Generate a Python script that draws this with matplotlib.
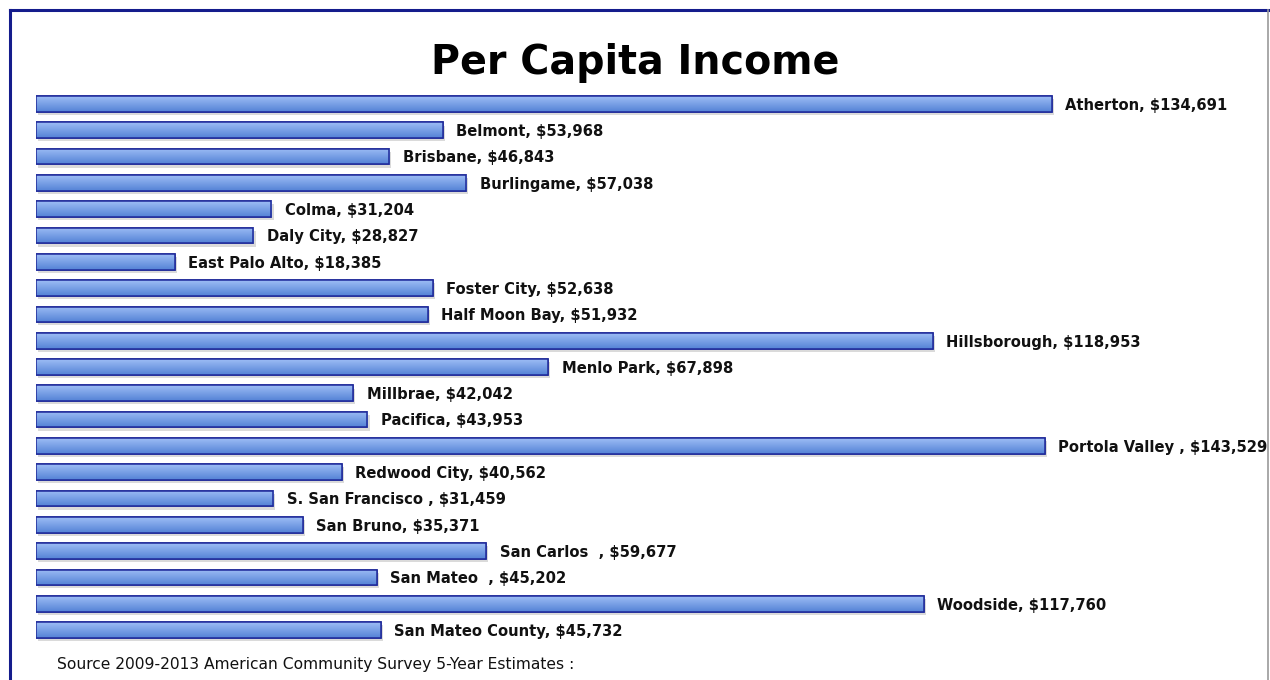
import numpy as np
import matplotlib
matplotlib.use("Agg")
import matplotlib.pyplot as plt
from matplotlib.lines import Line2D

# ---- data ----
places = ["Atherton", "Belmont", "Brisbane", "Burlingame", "Colma", "Daly City",
          "East Palo Alto", "Foster City", "Half Moon Bay", "Hillsborough",
          "Menlo Park", "Millbrae", "Pacifica", "Portola Valley ", "Redwood City",
          "S. San Francisco ", "San Bruno", "San Carlos  ", "San Mateo  ",
          "Woodside", "San Mateo County"]
income = [134691, 53968, 46843, 57038, 31204, 28827, 18385, 52638, 51932,
          118953, 67898, 42042, 43953, 143529, 40562, 31459, 35371, 59677,
          45202, 117760, 45732]
# bar lengths as drawn (Portola Valley bar is drawn shorter than its label says)
bar_len = [134691, 53968, 46843, 57038, 31204, 28827, 18385, 52638, 51932,
           118953, 67898, 42042, 43953, 133800, 40562, 31459, 35371, 59677,
           45202, 117760, 45732]

NAVY = "#1f2a9a"
BAR_TOP = "#9dbdf5"
BAR_BOT = "#5482d6"

plt.rcParams["font.family"] = ["DejaVu Sans"]

fig = plt.figure(figsize=(12.7, 6.8), dpi=100)
fig.patch.set_facecolor("white")

# axes placed so that bars start at x=36px, 7.54px per $1000
ax = fig.add_axes([36 / 1270, 36.85 / 680, 1224 / 1270, 552.3 / 680])
ax.set_xlim(0, 1224 / 0.00754)
ax.set_ylim(len(places) - 0.5, -0.5)
ax.axis("off")

y = np.arange(len(places))
h = 0.6

# soft shadow under each bar
ax.barh(y + 0.12, bar_len, height=h, left=300, color="#dadada", zorder=1)

bars = ax.barh(y, bar_len, height=h, color=BAR_BOT, edgecolor=NAVY,
               linewidth=1.1, zorder=2)

# vertical gradient inside each bar: light at top, darker at bottom
grad = np.linspace(0, 1, 64).reshape(-1, 1)
cmap = matplotlib.colors.LinearSegmentedColormap.from_list("g", [BAR_TOP, BAR_BOT])
for b in bars:
    x0, y0 = b.get_x(), b.get_y()
    w, hh = b.get_width(), b.get_height()
    im = ax.imshow(grad, cmap=cmap, aspect="auto", zorder=2.5,
                   extent=[x0, x0 + w, y0 + hh, y0], origin="upper")
    im.set_clip_path(b)
    ax.add_patch(plt.Rectangle((x0, y0), w, hh, fill=False, edgecolor=NAVY,
                               linewidth=1.1, zorder=3))
ax.set_xlim(0, 1224 / 0.00754)
ax.set_ylim(len(places) - 0.5, -0.5)

for yi, p, v, L in zip(y, places, income, bar_len):
    ax.text(L + 1800, yi + 0.05, f"{p}, ${v:,}", va="center", ha="left",
            fontsize=10.6, fontweight="bold", color="#111111", zorder=4)

fig.text(0.5, 1 - 63 / 680, "Per Capita Income", ha="center", va="center",
         fontsize=28.5, fontweight="bold", color="black")
fig.text(57 / 1270, 1 - 665 / 680,
         "Source 2009-2013 American Community Survey 5-Year Estimates :",
         ha="left", va="center", fontsize=11.2, color="#111111")

# frame
fig.add_artist(Line2D([9.5 / 1270, 1268 / 1270], [1 - 9.5 / 680] * 2,
                      transform=fig.transFigure, color="#141c8c", lw=2.2))
fig.add_artist(Line2D([10 / 1270] * 2, [0, 1 - 9.5 / 680],
                      transform=fig.transFigure, color="#141c8c", lw=2.2))
fig.add_artist(Line2D([1268 / 1270] * 2, [0, 1 - 9.5 / 680],
                      transform=fig.transFigure, color="#9a9a9a", lw=1.2))

fig.savefig("out.png", dpi=100, facecolor="white")
